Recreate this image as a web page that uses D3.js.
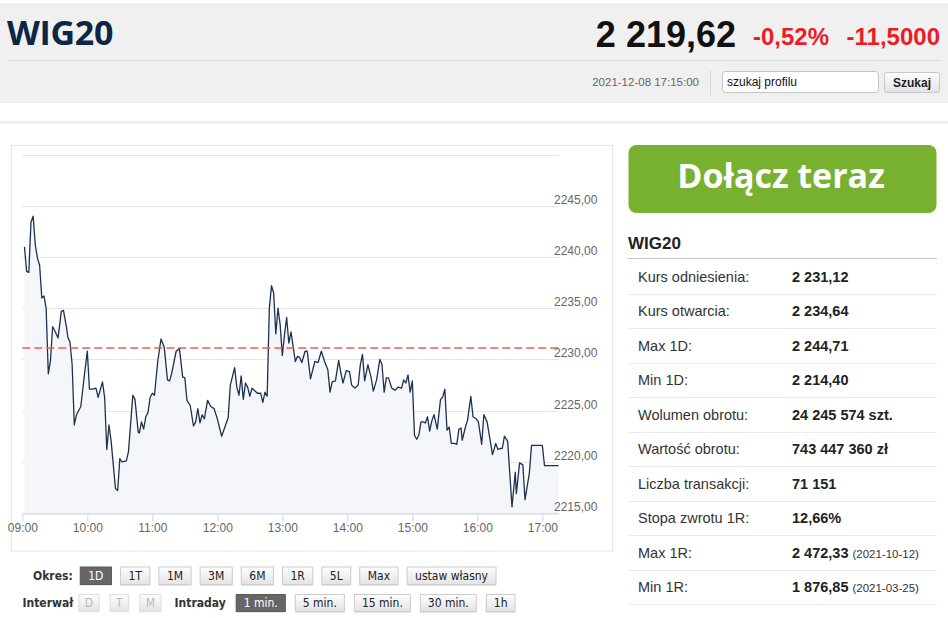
<!DOCTYPE html>
<html><head><meta charset="utf-8">
<script src="https://cdn.jsdelivr.net/npm/d3@7/dist/d3.min.js"></script>
<style>
html,body{margin:0;padding:0;background:#fff;}
svg{display:block;}
</style></head><body>
<svg id="c" width="948" height="618"></svg>
<script>
// ---------- DATA ----------
const times = ["09:02","09:04","09:06","09:08","09:10","09:12","09:14","09:16","09:18","09:20","09:22","09:24","09:26","09:28","09:30","09:33","09:36","09:38","09:41","09:42","09:44","09:46","09:48","09:50","09:54","09:57",
"10:00","10:02","10:05","10:08","10:10","10:14","10:16","10:18","10:20","10:22","10:26","10:28","10:30","10:32","10:36","10:38","10:42","10:44","10:47","10:48","10:50","10:52","10:54","10:56","10:58",
"11:00","11:02","11:05","11:08","11:11","11:14","11:16","11:18","11:22","11:25","11:28","11:30","11:32","11:35","11:38","11:40","11:42","11:44","11:46","11:48","11:51","11:54","11:57",
"12:00","12:04","12:07","12:10","12:12","12:16","12:18","12:20","12:22","12:24","12:26","12:28","12:30","12:32","12:35","12:37","12:40","12:42","12:44","12:46","12:48","12:50","12:52","12:54","12:56","12:58",
"13:00","13:02","13:04","13:06","13:08","13:12","13:14","13:16","13:18","13:21","13:23","13:26","13:30","13:33","13:36","13:39","13:42","13:44","13:46","13:49","13:52","13:54","13:56","13:59",
"14:02","14:04","14:07","14:10","14:12","14:14","14:16","14:19","14:22","14:24","14:27","14:30","14:32","14:34","14:36","14:38","14:41","14:44","14:47","14:50","14:52","14:54","14:56","14:58",
"15:00","15:02","15:04","15:06","15:08","15:10","15:12","15:14","15:16","15:18","15:20","15:23","15:26","15:28","15:30","15:32","15:34","15:36","15:39","15:41","15:43","15:45","15:46","15:49","15:51","15:54","15:56","15:59",
"16:01","16:04","16:06","16:09","16:12","16:14","16:17","16:19","16:21","16:23","16:25","16:28","16:32","16:35","16:36","16:39","16:42","16:44","16:48","16:50","17:00","17:02","17:15"];
const values = [2241.0,2238.6,2238.5,2243.4,2244.0,2241.2,2239.9,2239.2,2236.0,2236.2,2235.0,2228.6,2229.9,2233.2,2232.8,2232.1,2234.7,2234.8,2233.0,2232.2,2231.7,2229.5,2223.6,2224.6,2225.4,2228.2,
2230.8,2227.1,2227.1,2227.2,2226.3,2227.8,2226.3,2221.2,2223.6,2222.0,2217.4,2217.2,2220.3,2220.0,2220.1,2221.0,2226.5,2226.1,2222.9,2222.8,2223.9,2223.2,2224.4,2224.8,2226.3,
2226.7,2226.5,2229.8,2232.0,2231.2,2228.0,2227.9,2228.7,2230.8,2231.1,2228.3,2228.2,2226.0,2225.5,2223.5,2223.9,2225.2,2223.8,2224.6,2224.2,2226.0,2225.4,2225.2,
2224.2,2222.5,2223.4,2224.3,2227.5,2229.2,2227.3,2226.5,2228.4,2226.1,2227.7,2227.3,2226.4,2227.2,2226.9,2226.7,2226.7,2225.8,2226.8,2226.4,2235.0,2237.2,2236.5,2232.5,2235.0,2233.4,
2230.4,2232.4,2234.1,2231.6,2232.7,2229.8,2230.3,2230.2,2229.7,2230.8,2230.8,2228.1,2229.8,2229.7,2230.8,2229.8,2229.0,2226.8,2227.8,2227.9,2229.9,2228.7,2227.7,2228.9,
2228.8,2227.5,2227.2,2227.5,2229.5,2230.5,2227.9,2229.5,2228.2,2226.9,2228.0,2230.0,2229.5,2226.8,2228.2,2228.2,2227.2,2227.0,2227.3,2227.2,2228.0,2227.7,2228.5,2226.8,
2227.9,2222.6,2222.2,2222.6,2223.9,2223.9,2223.8,2224.4,2223.0,2224.0,2224.6,2223.2,2226.1,2226.3,2227.1,2223.1,2223.4,2221.8,2221.8,2221.7,2223.2,2223.3,2222.1,2223.4,2224.1,2226.4,2224.4,2224.2,
2223.9,2221.7,2224.6,2223.9,2222.0,2220.7,2221.8,2221.2,2221.3,2221.3,2222.5,2222.0,2215.6,2219.0,2216.9,2219.9,2219.7,2216.3,2218.9,2221.6,2221.6,2219.62,2219.62];
const referenceValue = 2231.12;
const gridValues = [2215,2220,2225,2230,2235,2240,2245,2250];
const labelValues = [2215,2220,2225,2230,2235,2240,2245];
const xTickLabels = ["09:00","10:00","11:00","12:00","13:00","14:00","15:00","16:00","17:00"];
const sessionStart = "09:00", sessionEnd = "17:15";

const title = "WIG20";
const lastPrice = "2 219,62", changePct = "-0,52%", changeAbs = "-11,5000";
const timestamp = "2021-12-08 17:15:00";

const periodButtons = ["1D","1T","1M","3M","6M","1R","5L","Max","ustaw własny"];
const intervalButtons = ["D","T","M"];
const intradayButtons = ["1 min.","5 min.","15 min.","30 min.","1h"];

const tableLabels = ["Kurs odniesienia:","Kurs otwarcia:","Max 1D:","Min 1D:","Wolumen obrotu:","Wartość obrotu:","Liczba transakcji:","Stopa zwrotu 1R:","Max 1R:","Min 1R:"];
const tableValues = ["2 231,12","2 234,64","2 244,71","2 214,40","24 245 574 szt.","743 447 360 zł","71 151","12,66%","2 472,33","1 876,85"];
const tableDates = ["","","","","","","","","(2021-10-12)","(2021-03-25)"];

// ---------- HELPERS ----------
const toMin = s => { const [h,m] = s.split(":").map(Number); return (h-9)*60+m; };
const svg = d3.select("#c");
const ARIAL = "'Liberation Sans', Arial, sans-serif";
const OPEN = "'Open Sans', sans-serif";

const defs = svg.append("defs");
const g1 = defs.append("linearGradient").attr("id","btn").attr("x1",0).attr("y1",0).attr("x2",0).attr("y2",1);
g1.append("stop").attr("offset","0%").attr("stop-color","#fefefe");
g1.append("stop").attr("offset","100%").attr("stop-color","#e3e3e3");

// ---------- HEADER ----------
svg.append("rect").attr("x",0).attr("y",3).attr("width",948).attr("height",100).attr("fill","#f0f0f0");
svg.append("line").attr("x1",7).attr("x2",941).attr("y1",60.5).attr("y2",60.5).attr("stroke","#dadada");
svg.append("text").attr("x",7).attr("y",45).attr("font-family",OPEN).attr("font-weight",700)
  .attr("font-size",34).attr("fill","#0e2645").attr("letter-spacing",-0.3).text(title);
svg.append("text").attr("x",736).attr("y",46.5).attr("text-anchor","end").attr("font-family",ARIAL)
  .attr("font-weight",700).attr("font-size",36).attr("fill","#111").text(lastPrice);
svg.append("text").attr("x",829).attr("y",45).attr("text-anchor","end").attr("font-family",ARIAL)
  .attr("font-weight",700).attr("font-size",24).attr("fill","#ea1c24").text(changePct);
svg.append("text").attr("x",940).attr("y",45).attr("text-anchor","end").attr("font-family",ARIAL)
  .attr("font-weight",700).attr("font-size",24).attr("fill","#ea1c24").text(changeAbs);
svg.append("text").attr("x",699).attr("y",86).attr("text-anchor","end").attr("font-family",ARIAL)
  .attr("font-size",11.5).attr("fill","#666").text(timestamp);
svg.append("line").attr("x1",710.5).attr("x2",710.5).attr("y1",70).attr("y2",95).attr("stroke","#d8d8d8");
svg.append("rect").attr("x",722.5).attr("y",71.5).attr("width",156).attr("height",21).attr("rx",3)
  .attr("fill","#fff").attr("stroke","#c4c4c4");
svg.append("text").attr("x",727).attr("y",86).attr("font-family",ARIAL).attr("font-size",12).attr("fill","#111").text("szukaj profilu");
svg.append("rect").attr("x",884.5).attr("y",72.5).attr("width",55).attr("height",20).attr("rx",2)
  .attr("fill","url(#btn)").attr("stroke","#c8c8c8");
svg.append("text").attr("x",912).attr("y",87).attr("text-anchor","middle").attr("font-family",ARIAL)
  .attr("font-weight",700).attr("font-size",12).attr("fill","#222").text("Szukaj");
svg.append("rect").attr("x",0).attr("y",121).attr("width",948).attr("height",3).attr("fill","#efefef");

// ---------- CHART ----------
svg.append("rect").attr("x",11.5).attr("y",145.5).attr("width",601).attr("height",405.5)
  .attr("fill","#fff").attr("stroke","#e6e6e6");

const x = d3.scaleLinear().domain([toMin(sessionStart), toMin(sessionEnd)]).range([22.3, 558.6]);
const y = d3.scaleLinear().domain([2215, 2250]).range([513, 154.7]);
const data = times.map((t,i) => ({m: toMin(t), v: values[i]}));

const chart = svg.append("g");
chart.append("g").selectAll("line").data(gridValues).join("line")
  .attr("x1", x.range()[0]).attr("x2", x.range()[1])
  .attr("y1", d => Math.round(y(d))+0.5).attr("y2", d => Math.round(y(d))+0.5)
  .attr("stroke","#e6e6e6").attr("stroke-width",1);

const area = d3.area().x(d => x(d.m)).y0(y(2215)).y1(d => y(d.v));
chart.append("path").datum(data).attr("d", area).attr("fill","#f4f6f9");

const line = d3.line().x(d => x(d.m)).y(d => y(d.v));
chart.append("path").datum(data).attr("d", line).attr("fill","none")
  .attr("stroke","#1d3150").attr("stroke-width",1.3).attr("stroke-linejoin","round");

chart.append("line").attr("x1", x.range()[0]).attr("x2", x.range()[1])
  .attr("y1", y(referenceValue)).attr("y2", y(referenceValue))
  .attr("stroke","#f25a5a").attr("stroke-width",1.3).attr("stroke-dasharray","8,4");

chart.append("g").selectAll("text").data(labelValues).join("text")
  .attr("x", 554).attr("y", d => y(d) - 2)
  .attr("font-family",ARIAL).attr("font-size",12).attr("fill","#666")
  .text(d => d3.format(".2f")(d).replace(".",","));

const xAxis = d3.axisBottom(x).tickValues(xTickLabels.map(toMin))
  .tickFormat(m => xTickLabels[xTickLabels.map(toMin).indexOf(m)])
  .tickSizeInner(8).tickSizeOuter(0).tickPadding(2);
const ax = chart.append("g").attr("transform","translate(0,513.5)").call(xAxis);
ax.select(".domain").attr("stroke","#ccd6eb");
ax.selectAll(".tick line").attr("stroke","#ccd6eb");
ax.selectAll(".tick text").attr("font-family",ARIAL).attr("font-size",12).attr("fill","#666");

// ---------- BUTTONS ----------
const BFONT = "'DejaVu Sans Condensed','DejaVu Sans',sans-serif";
function measure(txt, size, weight){
  const t = svg.append("text").attr("font-family",BFONT).attr("font-size",size).attr("font-weight",weight||400).text(txt);
  const w = t.node().getComputedTextLength(); t.remove(); return w;
}
function drawRow(items, startX, by, bh){
  let cx = startX;
  items.forEach(it => {
    if (it.type === "label") {
      const w = measure(it.text, 12, 700);
      svg.append("text").attr("x",cx).attr("y",by+bh/2+4.3).attr("font-family",BFONT)
        .attr("font-weight",700).attr("font-size",12).attr("fill","#333").text(it.text);
      cx += w + it.gap;
    } else {
      const tw = measure(it.text, 12, 400);
      const w = tw + 2*it.pad;
      const fill = it.active ? "#666" : "url(#btn)";
      svg.append("rect").attr("x",cx+0.5).attr("y",by+1.5).attr("width",w).attr("height",bh)
        .attr("fill", it.disabled ? "#f3f3f3" : "#cfcfcf");
      svg.append("rect").attr("x",cx+0.5).attr("y",by+0.5).attr("width",w).attr("height",bh)
        .attr("fill",fill).attr("stroke", it.active ? "#5a5a5a" : (it.disabled ? "#e0e0e0" : "#cdcdcd"));
      svg.append("text").attr("x",cx+0.5+w/2).attr("y",by+bh/2+4.8).attr("text-anchor","middle")
        .attr("font-family",BFONT).attr("font-size",12)
        .attr("fill", it.active ? "#fff" : (it.disabled ? "#bbb" : "#222")).text(it.text);
      cx += w + (it.gap);
    }
  });
}
drawRow([{type:"label",text:"Okres:",gap:7}].concat(
  periodButtons.map((t,i)=>({type:"btn",text:t,pad:8,gap:9,active:i===0}))), 33, 566.5, 17.5);
drawRow([{type:"label",text:"Interwał",gap:5}]
  .concat(intervalButtons.map((t,i)=>({type:"btn",text:t,pad:6,gap:i===2?14:11,disabled:true})))
  .concat([{type:"label",text:"Intraday",gap:10}])
  .concat(intradayButtons.map((t,i)=>({type:"btn",text:t,pad:7.5,gap:10,active:i===0}))), 22.5, 594, 17);

// ---------- RIGHT PANEL ----------
svg.append("rect").attr("x",628.5).attr("y",145).attr("width",308).attr("height",68).attr("rx",8).attr("fill","#78b12f");
svg.append("text").attr("x",781).attr("y",188).attr("text-anchor","middle").attr("font-family",OPEN)
  .attr("font-weight",700).attr("font-size",34).attr("fill","#fff").text("Dołącz teraz");
svg.append("text").attr("x",628).attr("y",249).attr("font-family",ARIAL).attr("font-weight",700)
  .attr("font-size",17).attr("fill","#222").text("WIG20");
svg.append("line").attr("x1",628).attr("x2",937).attr("y1",258.5).attr("y2",258.5).attr("stroke","#c4c4c4");

const rowTop = 259, rowH = 34.5;
const rows = svg.append("g");
tableLabels.forEach((lab,i) => {
  const cy = rowTop + rowH*i + 17.5;
  rows.append("text").attr("x",638).attr("y",cy+5).attr("font-family",ARIAL).attr("font-size",14.5)
    .attr("fill","#333").text(lab);
  const vt = rows.append("text").attr("x",792).attr("y",cy+5).attr("font-family",ARIAL).attr("font-size",14.5)
    .attr("font-weight",700).attr("fill","#222").text(tableValues[i]);
  if (tableDates[i]) {
    const w = vt.node().getComputedTextLength();
    rows.append("text").attr("x",792+w+4).attr("y",cy+5).attr("font-family",ARIAL).attr("font-size",11.5)
      .attr("fill","#333").text(tableDates[i]);
  }
  rows.append("line").attr("x1",628).attr("x2",937)
    .attr("y1",Math.round(rowTop + rowH*(i+1))+0.5).attr("y2",Math.round(rowTop + rowH*(i+1))+0.5)
    .attr("stroke","#ececec");
});
</script>
</body></html>
